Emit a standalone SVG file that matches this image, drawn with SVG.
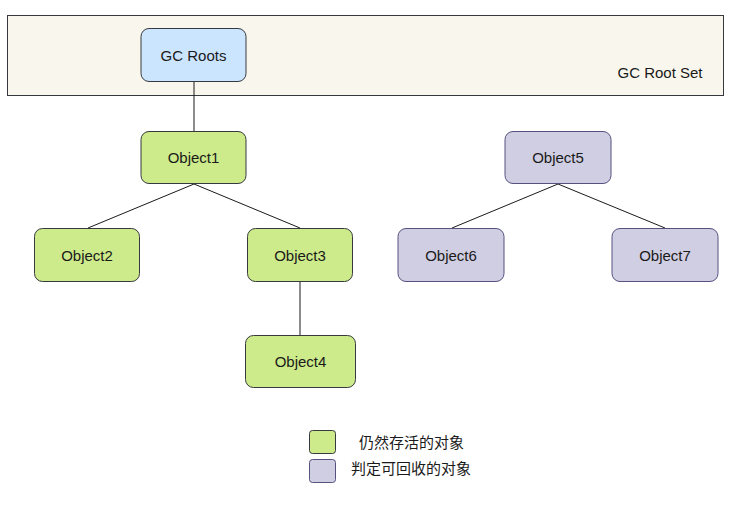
<svg xmlns="http://www.w3.org/2000/svg" width="737" height="506" viewBox="0 0 737 506">
<style>
.t{font-family:"Liberation Sans",Arial,sans-serif;font-size:15px;fill:#1a1a1a;text-anchor:middle;dominant-baseline:central}
.cjk{font-family:"Liberation Sans","Noto Sans CJK SC",sans-serif;font-size:15px;fill:#1a1a1a;dominant-baseline:central}
.g{fill:#cdeb8b;stroke:#36393d;stroke-width:1}
.p{fill:#d0cee2;stroke:#56517e;stroke-width:1}
.b{fill:#cce5ff;stroke:#36393d;stroke-width:1}
.c{stroke:#1a1a1a;stroke-width:1;fill:none}
</style>
<rect width="737" height="506" fill="#ffffff"/>
<g id="rootset">
<rect x="7.5" y="15.5" width="716" height="80" fill="#f9f7ed" stroke="#36393d"/>
<text class="t" x="660" y="72">GC Root Set</text>
</g>
<g id="connectors">
<path class="c" d="M194 82V131"/>
<path class="c" d="M194 184L88 228"/>
<path class="c" d="M194 184L300 228"/>
<path class="c" d="M300 282V335"/>
<path class="c" d="M558 184L452 228"/>
<path class="c" d="M558 184L665 228"/>
</g>
<g id="gcroots"><rect class="b" x="141" y="28.5" width="105" height="53" rx="8"/><text class="t" x="193.5" y="55">GC Roots</text></g>
<g id="object1"><rect class="g" x="141" y="131.5" width="105" height="52" rx="8"/><text class="t" x="193.5" y="157.5">Object1</text></g>
<g id="object2"><rect class="g" x="34.5" y="228.5" width="105" height="53" rx="8"/><text class="t" x="87" y="255">Object2</text></g>
<g id="object3"><rect class="g" x="247.5" y="228.5" width="105" height="53" rx="8"/><text class="t" x="300" y="255">Object3</text></g>
<g id="object4"><rect class="g" x="245.5" y="335.5" width="110" height="52" rx="8"/><text class="t" x="300.5" y="361.5">Object4</text></g>
<g id="object5"><rect class="p" x="505" y="131.5" width="106" height="52" rx="8"/><text class="t" x="558" y="157.5">Object5</text></g>
<g id="object6"><rect class="p" x="398" y="228.5" width="106" height="53" rx="8"/><text class="t" x="451" y="255">Object6</text></g>
<g id="object7"><rect class="p" x="612" y="228.5" width="106" height="53" rx="8"/><text class="t" x="665" y="255">Object7</text></g>
<g id="legend-alive"><rect class="g" x="309.5" y="430.5" width="26" height="23" rx="3"/><text class="cjk" x="359" y="442">仍然存活的对象</text></g>
<g id="legend-collect"><rect class="p" x="309.5" y="459.5" width="26" height="23" rx="3"/><text class="cjk" x="351" y="468">判定可回收的对象</text></g>
</svg>
